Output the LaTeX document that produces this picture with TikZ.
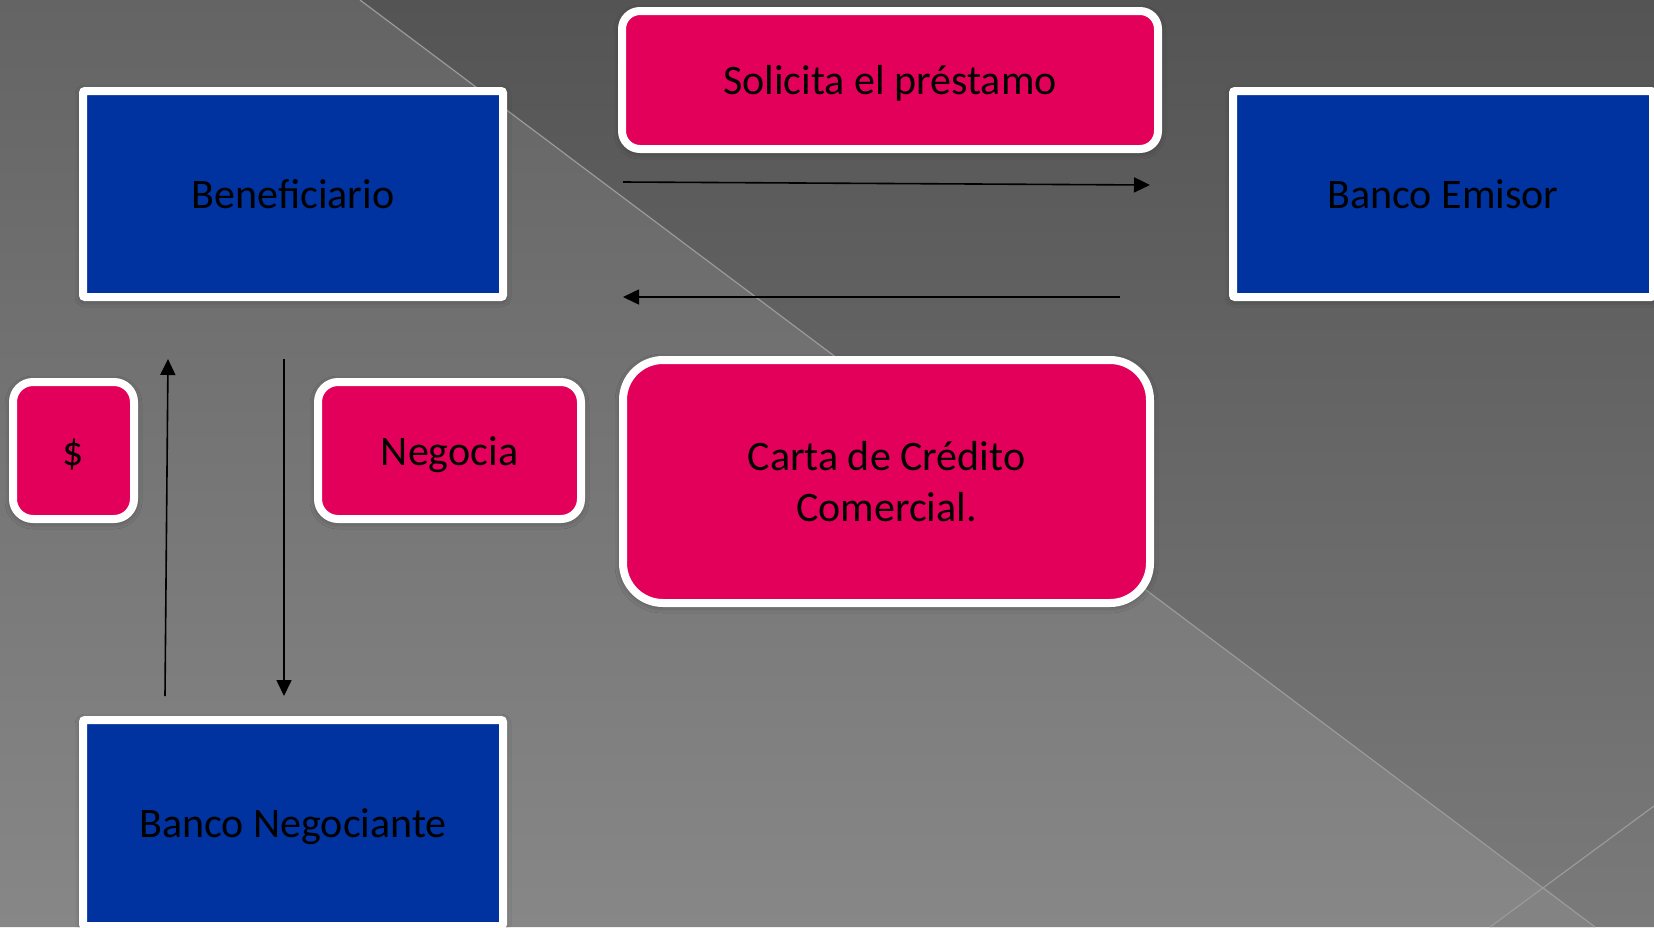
\documentclass[tikz,border=0pt]{standalone}
\usepackage{fontspec}
\setmainfont{Carlito}
\usetikzlibrary{arrows.meta,shadows.blur}
\definecolor{bgA}{HTML}{646464}
\definecolor{bgB}{HTML}{878787}
\definecolor{bgC}{HTML}{545454}
\definecolor{bgD}{HTML}{7A7A7A}
\definecolor{bgE}{HTML}{838383}
\definecolor{diag}{HTML}{9A9A9A}
\definecolor{boxblue}{HTML}{0033A0}
\definecolor{boxpink}{HTML}{E3005A}
\tikzset{
  txt/.style={font=\fontsize{42}{51}\selectfont, text=black, align=center, inner sep=0pt, outer sep=0pt},
  oneline/.style={text height=29pt, text depth=0pt},
  bluebox/.style={txt, oneline, draw=white, line width=8pt, fill=boxblue, rounded corners=2pt,
     blur shadow={shadow xshift=0pt, shadow yshift=-2pt, shadow blur radius=8pt, shadow opacity=45}},
  pinkbox/.style={txt, draw=white, line width=8pt, fill=boxpink, rounded corners=#1,
     blur shadow={shadow xshift=0pt, shadow yshift=-2pt, shadow blur radius=8pt, shadow opacity=45}},
  conn/.style={draw=black, line width=1.6pt, -{Triangle[length=16pt,width=15pt]}},
}
\begin{document}
\begin{tikzpicture}[x=1pt,y=-1pt]
\useasboundingbox (0,0) rectangle (1654,927);
\clip (0,0) rectangle (1654,927);
% background
\shade[top color=bgA, bottom color=bgB] (0,0) -- (360,0) -- (1595,927) -- (0,927) -- cycle;
\shade[top color=bgC, bottom color=bgD] (360,0) -- (1654,0) -- (1654,927) -- (1595,927) -- cycle;
\fill[bgE] (1544,887) -- (1595,927) -- (1490,927) -- cycle;
\draw[diag, line width=1.2pt] (360,0) -- (1595,927);
\draw[diag, line width=1.2pt] (1654,806) -- (1490,927);
% nodes
\node[bluebox, minimum width=420pt, minimum height=206pt] (bene) at (293,194) {Beneficiario};
\node[bluebox, minimum width=420pt, minimum height=206pt] (emisor) at (1443,194) {Banco Emisor};
\node[bluebox, minimum width=420pt, minimum height=206pt] (negociante) at (293,823) {Banco Negociante};
\node[pinkbox=18pt, oneline, minimum width=536pt, minimum height=138pt] (solicita) at (890,80) {Solicita el préstamo};
\node[pinkbox=40pt, minimum width=527pt, minimum height=243pt] (carta) at (886.5,481.5) {Carta de Crédito\\Comercial.};
\node[pinkbox=20pt, oneline, minimum width=121pt, minimum height=137pt] (dolar) at (73.5,450.5) {\$};
\node[pinkbox=20pt, oneline, minimum width=263pt, minimum height=137pt] (negocia) at (449.5,450.5) {Negocia};
% connectors
\coordinate (r1s) at (623,182);
\coordinate (r1e) at (1150,185);
\coordinate (l1s) at (1120,297);
\coordinate (l1e) at (623,297);
\coordinate (u1s) at (165,696);
\coordinate (u1e) at (168,359);
\coordinate (d1s) at (284,359);
\coordinate (d1e) at (284,696);
\draw[conn] (r1s) -- (r1e);
\draw[conn] (l1s) -- (l1e);
\draw[conn] (u1s) -- (u1e);
\draw[conn] (d1s) -- (d1e);
\end{tikzpicture}
\end{document}
